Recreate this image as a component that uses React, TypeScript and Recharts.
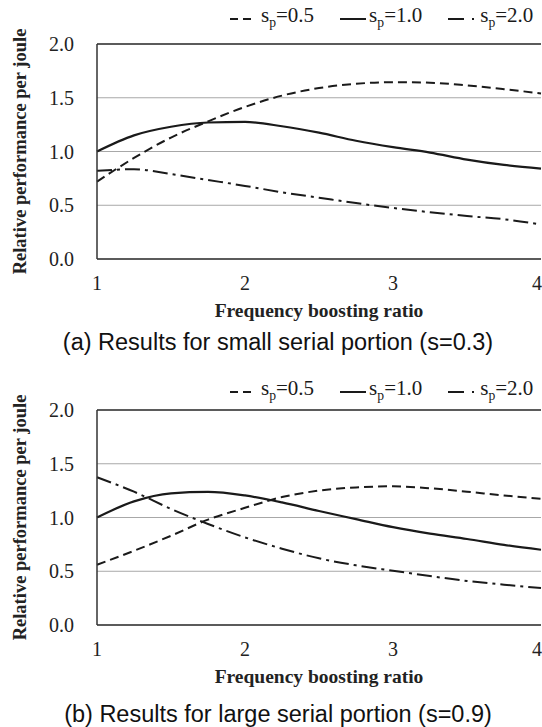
import React from 'react'
import { CartesianGrid, Line, LineChart, ReferenceLine, XAxis, YAxis } from 'recharts'

// frequency boosting ratio (x) and the curves
const ratios = [1, 1.25, 1.5, 1.75, 2, 2.25, 2.5, 2.75, 3, 3.25, 3.5, 3.75, 4]
const xTicks = [1, 2, 3, 4]
const yTicks = [0, 0.5, 1, 1.5, 2]

// (a) small serial portion, s=0.3
const smallSp05 = [0.72, 0.94, 1.13, 1.28, 1.415, 1.52, 1.59, 1.63, 1.645, 1.64, 1.615, 1.58, 1.54]
const smallSp10 = [1.0, 1.15, 1.23, 1.27, 1.275, 1.235, 1.175, 1.1, 1.04, 0.99, 0.925, 0.875, 0.84]
const smallSp20 = [0.82, 0.835, 0.79, 0.735, 0.68, 0.62, 0.57, 0.52, 0.475, 0.435, 0.4, 0.37, 0.32]

// (b) large serial portion, s=0.9
const largeSp05 = [0.56, 0.69, 0.83, 0.98, 1.09, 1.19, 1.25, 1.28, 1.29, 1.272, 1.24, 1.205, 1.175]
const largeSp10 = [1.0, 1.15, 1.225, 1.238, 1.205, 1.14, 1.06, 0.985, 0.91, 0.85, 0.8, 0.745, 0.7]
const largeSp20 = [1.374, 1.24, 1.08, 0.94, 0.815, 0.71, 0.62, 0.555, 0.505, 0.455, 0.41, 0.375, 0.344]

const serif = '"Liberation Serif", "Times New Roman", serif'
const sans = '"Liberation Sans", Arial, sans-serif'
const ink = '#1a1a1a'

const DASHED = '9 5'
const DASH_DOT = '15 5 3 5'

function buildRows(a: number[], b: number[], c: number[]) {
  return ratios.map((r, i) => ({ ratio: r, sp05: a[i], sp10: b[i], sp20: c[i] }))
}

function LegendRow({ top }: { top: number }) {
  const item = (dash: string | undefined, w: number, gap: number, label: string, last?: boolean) => (
    <div style={{ display: 'flex', alignItems: 'center', marginRight: last ? 0 : 26 }}>
      <svg width={w} height={6} style={{ marginRight: gap }}>
        <line x1={0} y1={3} x2={w} y2={3} stroke={ink} strokeWidth={2} strokeDasharray={dash} />
      </svg>
      <span>
        s<sub style={{ fontSize: '0.65em' }}>p</sub>={label}
      </span>
    </div>
  )
  return (
    <div
      style={{
        position: 'absolute',
        top,
        left: 230,
        display: 'flex',
        fontFamily: serif,
        fontSize: 21,
        color: ink,
        lineHeight: '24px',
        whiteSpace: 'nowrap',
      }}
    >
      {item('8 5', 24, 7, '0.5')}
      {item(undefined, 26, 3, '1.0')}
      {item('16 8 2 8', 28, 4, '2.0', true)}
    </div>
  )
}

function Panel({ rows, top, legendTop, captionTop, caption }: any) {
  return (
    <>
      <LegendRow top={legendTop} />
      <div style={{ position: 'absolute', top, left: 0 }}>
        <LineChart width={542} height={330} data={rows} margin={{ top: 44, right: 1, left: 0, bottom: 0 }}>
          <CartesianGrid vertical={false} stroke="#a8a8a8" strokeWidth={1} />
          <XAxis
            dataKey="ratio"
            type="number"
            domain={[1, 4]}
            ticks={xTicks}
            height={71}
            tickLine={false}
            tickSize={0}
            tickMargin={17}
            axisLine={{ stroke: '#333', strokeWidth: 1.5 }}
            tick={{ fill: '#222', fontSize: 20, fontFamily: serif }}
            label={{
              value: 'Frequency boosting ratio',
              position: 'insideBottom',
              offset: 13,
              style: { fontFamily: serif, fontSize: 19.5, fontWeight: 'bold', fill: '#222' },
            }}
          />
          <YAxis
            type="number"
            domain={[0, 2]}
            ticks={yTicks}
            width={97}
            tickLine={false}
            tickSize={0}
            tickMargin={23}
            tickFormatter={(v: number) => v.toFixed(1)}
            axisLine={{ stroke: '#333', strokeWidth: 1.5 }}
            tick={{ fill: '#222', fontSize: 20, fontFamily: serif }}
            label={{
              value: 'Relative performance per joule',
              angle: -90,
              position: 'insideLeft',
              offset: 19,
              style: { textAnchor: 'middle', fontFamily: serif, fontSize: 18.5, fontWeight: 'bold', fill: '#222' },
            }}
          />
          <ReferenceLine y={2} stroke="#333" strokeWidth={1.5} />
          <Line dataKey="sp05" type="monotone" stroke={ink} strokeWidth={2} strokeDasharray={DASHED} dot={false} isAnimationActive={false} />
          <Line dataKey="sp10" type="monotone" stroke={ink} strokeWidth={2.2} dot={false} isAnimationActive={false} />
          <Line dataKey="sp20" type="monotone" stroke={ink} strokeWidth={2} strokeDasharray={DASH_DOT} dot={false} isAnimationActive={false} />
        </LineChart>
      </div>
      <div
        style={{
          position: 'absolute',
          top: captionTop,
          left: 0,
          width: 556,
          textAlign: 'center',
          fontFamily: sans,
          fontSize: 23.5,
          lineHeight: '26px',
          color: '#111',
        }}
      >
        {caption}
      </div>
    </>
  )
}

export default function App() {
  return (
    <div style={{ position: 'absolute', left: 0, top: 0, width: 542, height: 727, overflow: 'hidden', background: '#fff' }}>
      <Panel
        rows={buildRows(smallSp05, smallSp10, smallSp20)}
        top={0}
        legendTop={3}
        captionTop={329}
        caption="(a) Results for small serial portion (s=0.3)"
      />
      <Panel
        rows={buildRows(largeSp05, largeSp10, largeSp20)}
        top={366}
        legendTop={376}
        captionTop={701}
        caption="(b) Results for large serial portion (s=0.9)"
      />
    </div>
  )
}
